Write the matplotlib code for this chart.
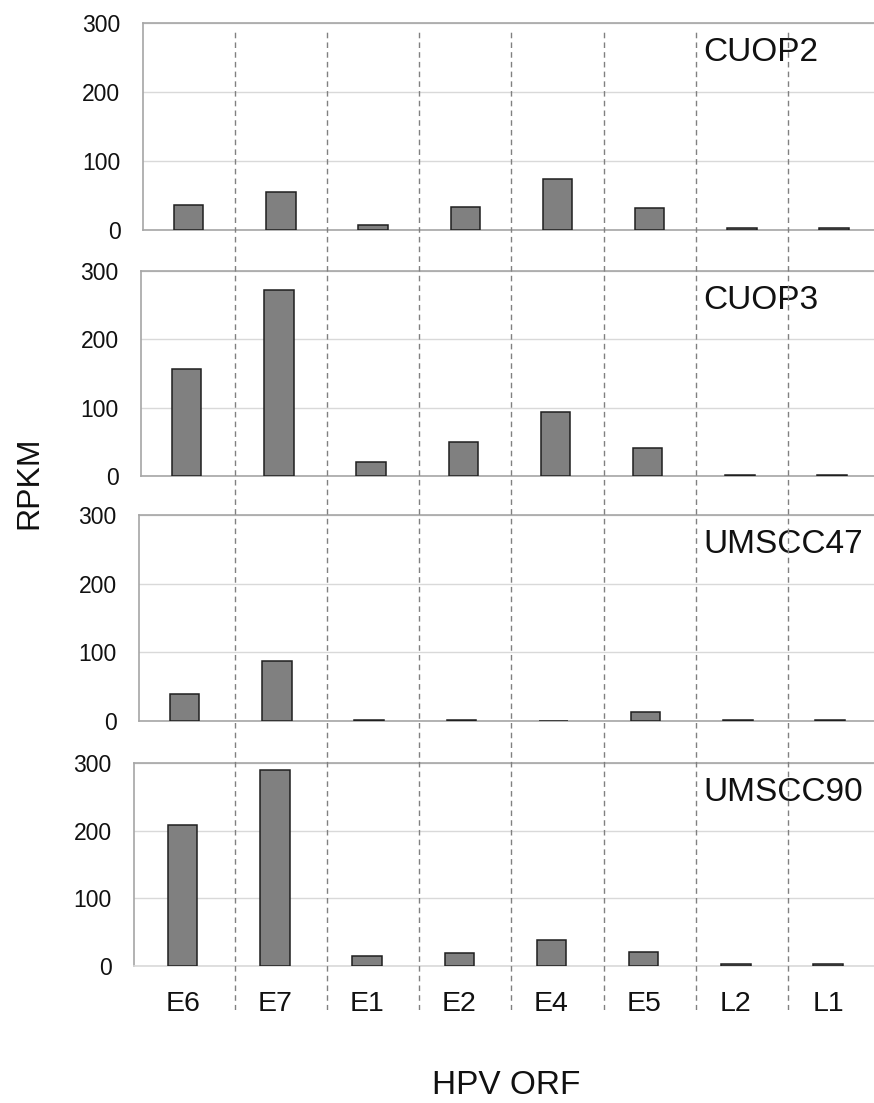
import numpy as np
import matplotlib
matplotlib.use('Agg')
import matplotlib.pyplot as plt

plt.rcParams['font.family'] = ['Liberation Sans', 'DejaVu Sans']

orfs = ['E6', 'E7', 'E1', 'E2', 'E4', 'E5', 'L2', 'L1']
cell_lines = ['CUOP2', 'CUOP3', 'UMSCC47', 'UMSCC90']

cuop2 = [36, 55, 7, 33, 74, 31, 2, 2]
cuop3 = [156, 272, 21, 50, 94, 41, 2, 2]
umscc47 = [39, 87, 2, 2, 0, 13, 2, 2]
umscc90 = [209, 290, 15, 19, 39, 21, 3, 3]
series = [cuop2, cuop3, umscc47, umscc90]

yticks = [0, 100, 200, 300]

W, H = 874, 1103
fig = plt.figure(figsize=(W / 100, H / 100), dpi=100)

# panel geometry in pixels: left, top, bottom, horizontal shift of categories
panels = [(142.7, 23.3, 229.7, 0.0),
          (141.0, 270.7, 476.3, -2.0),
          (139.0, 515.3, 721.0, -4.0),
          (134.0, 763.3, 966.0, -6.0)]
unit = 92.2      # px per category
c0 = 188.7       # px of first category centre

spine_col = '#a6a6a6'
grid_col = '#d9d9d9'
x = np.arange(len(orfs))

axes = []
for k, (L, top, bot, shift) in enumerate(panels):
    ax = fig.add_axes([L / W, 1 - bot / H, 1 - L / W, (bot - top) / H])
    ax.set_facecolor('none')
    ax.bar(x, series[k], width=0.32, color='#808080',
           edgecolor='#1f1f1f', linewidth=1.1, zorder=3)
    c = c0 + shift
    ax.set_xlim((L - c) / unit, (W - c) / unit)
    ax.set_ylim(0, 300)
    ax.set_yticks(yticks)
    ax.set_yticklabels([str(t) for t in yticks], fontsize=16.5)
    ax.tick_params(axis='y', length=0, pad=16, colors='#111111')
    ax.yaxis.grid(True, color=grid_col, linewidth=1.0)
    ax.set_axisbelow(True)
    ax.spines['right'].set_visible(False)
    for s in ['left', 'top', 'bottom']:
        ax.spines[s].set_color(spine_col)
        ax.spines[s].set_linewidth(1.2)
    ax.text((703 - L) / (W - L), 1 - 29.5 / (bot - top), cell_lines[k],
            transform=ax.transAxes, fontsize=24, ha='left', va='center',
            color='#111111')
    if k < 3:
        ax.set_xticks([])
    else:
        ax.set_xticks(x)
        ax.set_xticklabels(orfs, fontsize=20.5)
        ax.tick_params(axis='x', length=0, pad=18, colors='#111111')
        ax.spines['bottom'].set_color(grid_col)
    axes.append(ax)

# dashed category separators running through all panels
L1, top1 = panels[0][0], 29.0
bot_line = 1010.0
ov = fig.add_axes([L1 / W, 1 - bot_line / H, 1 - L1 / W, (bot_line - top1) / H])
ov.set_xlim(axes[0].get_xlim())
ov.set_ylim(0, 1)
ov.axis('off')
ov.patch.set_alpha(0)
ov.vlines(x[:-1] + 0.5, 0, 1, colors='#808080', linestyles=(0, (4, 3)),
          linewidth=1.0)

fig.text(29 / W, 1 - 483 / H, 'RPKM', rotation=90, fontsize=23,
         ha='center', va='center', color='#111111')
fig.text(506 / W, 1 - 1085 / H, 'HPV ORF', fontsize=24,
         ha='center', va='center', color='#111111')

fig.savefig('out.png', dpi=100, facecolor='white')
